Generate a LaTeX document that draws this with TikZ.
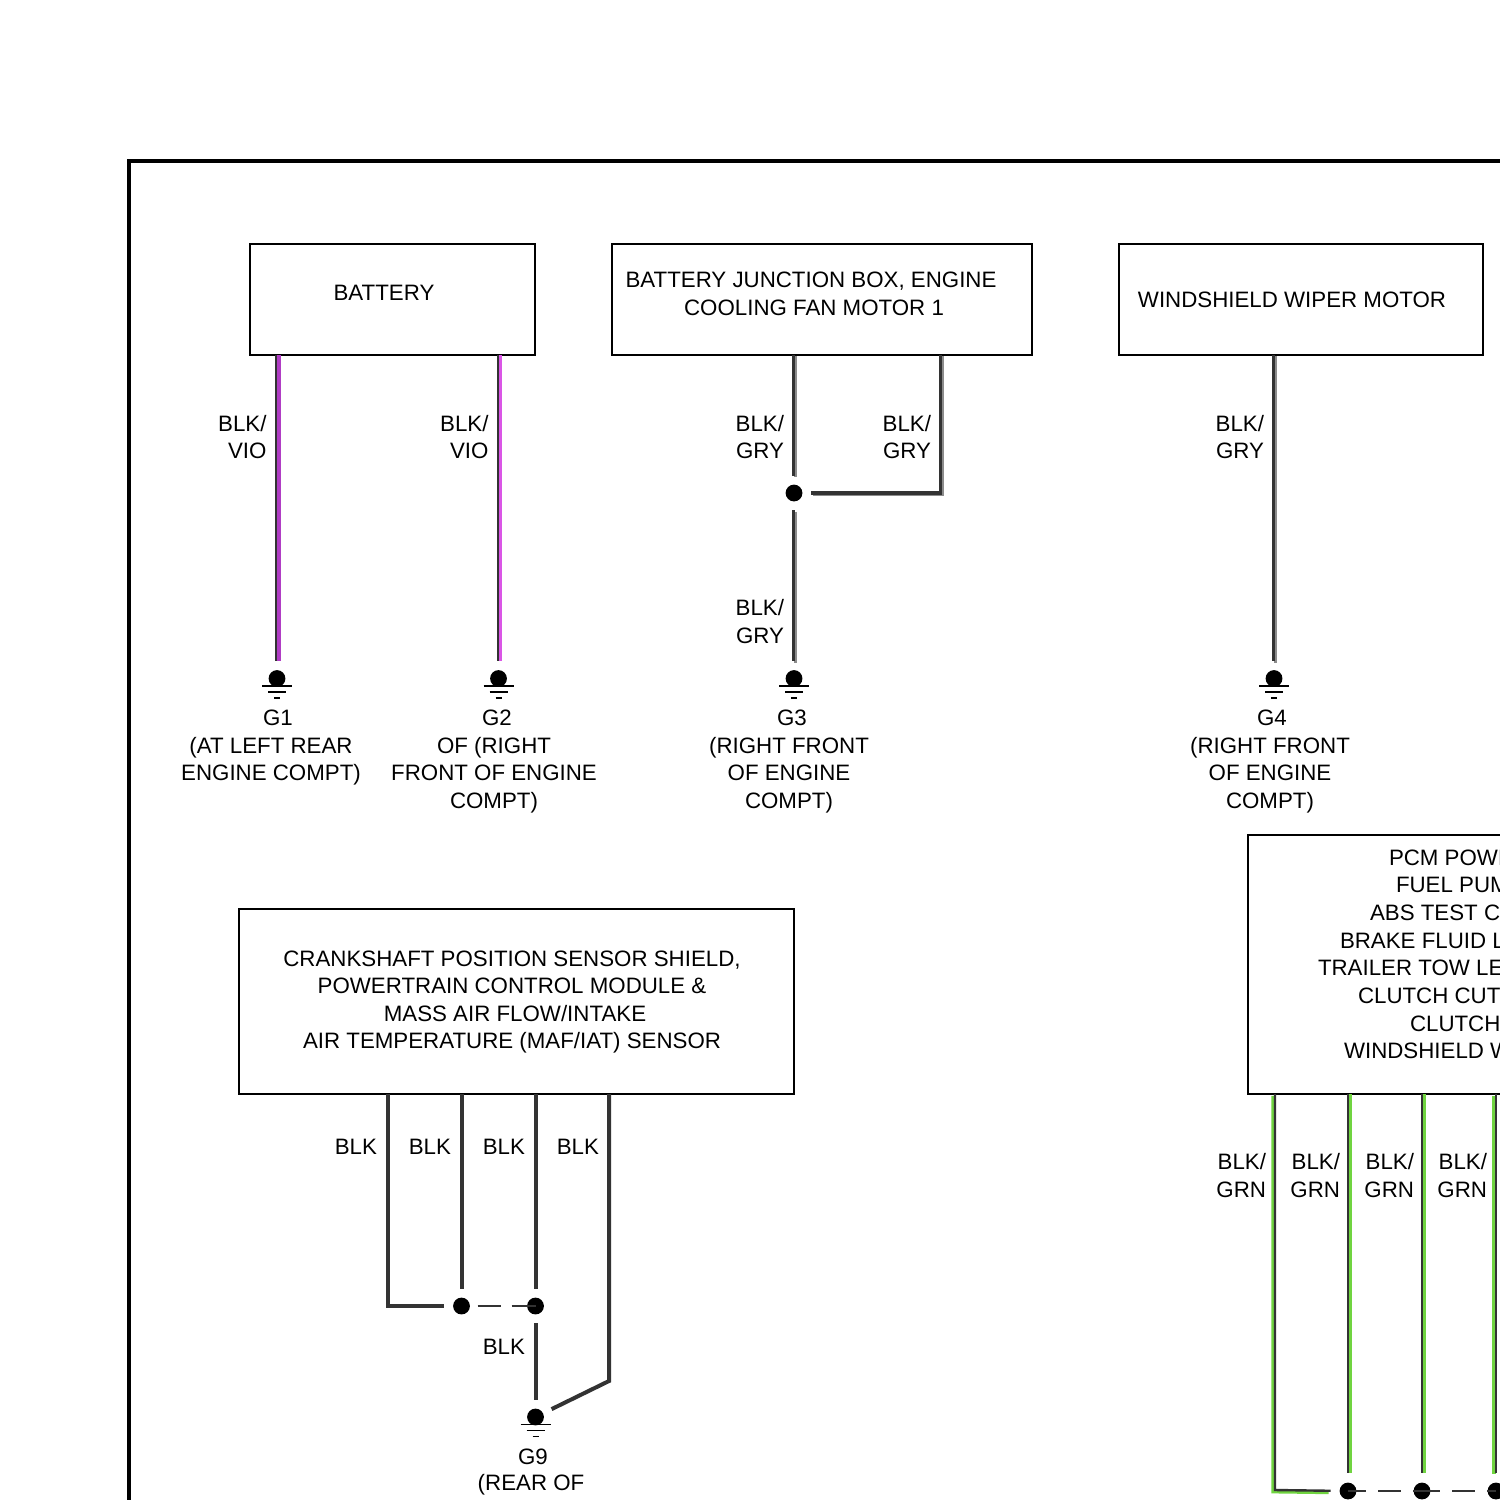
\documentclass[tikz,border=0pt]{standalone}
\usepackage{fontspec}
\setmainfont{Liberation Sans}
\definecolor{viocol}{HTML}{B03CC4}
\definecolor{viocolb}{HTML}{DA55E6}
\definecolor{grncol}{HTML}{70D440}
\definecolor{grycol}{HTML}{8C8C8C}
\definecolor{corecol}{HTML}{333333}
\tikzset{
  txt/.style={font=\fontsize{11.15}{13.75}\selectfont,inner sep=0pt,outer sep=0pt,text=black},
  boxnode/.style={draw=black,line width=0.9pt,fill=white,inner sep=0pt,outer sep=0pt,rectangle},
  dotnode/.style={circle,fill=black,draw=none,minimum size=8.4pt,inner sep=0pt,outer sep=0pt},
  rlabel/.style={txt,align=right,anchor=east},
  clabel/.style={txt,align=center},
  wireblk/.style={draw=corecol,line width=2pt,line join=miter},
  wirevio/.style={draw=corecol,line width=1pt,transform canvas={xshift=-0.5pt},preaction={draw=viocol,line width=1.8pt,transform canvas={xshift=1pt}}},
  wireviob/.style={draw=corecol,line width=1pt,transform canvas={xshift=-0.5pt},preaction={draw=viocolb,line width=1.8pt,transform canvas={xshift=1pt}}},
  wiregry/.style={draw=corecol,line width=1.6pt,transform canvas={xshift=-0.3pt},preaction={draw=grycol,line width=1.4pt,transform canvas={xshift=0.7pt,yshift=-0.7pt}}},
  wiregrnl/.style={draw=corecol,line width=1.2pt,preaction={draw=grncol,line width=1.6pt,transform canvas={xshift=-1pt,yshift=-0.9pt}}},
  wiregrnr/.style={draw=corecol,line width=1.2pt,preaction={draw=grncol,line width=1.6pt,transform canvas={xshift=1pt}}},
  thinline/.style={draw=black!80,line width=0.7pt},
  gndline/.style={draw=black,line width=0.8pt},
}
\newcommand{\gndsym}[3]{%
  \node[dotnode] (#1) at (#2,#3) {};
  \draw[gndline] ($(#1)+(-15,7.5)$) -- ($(#1)+(15,7.5)$);
  \draw[gndline] ($(#1)+(-9,13.5)$) -- ($(#1)+(9,13.5)$);
  \draw[gndline] ($(#1)+(-3,19.5)$) -- ($(#1)+(3,19.5)$);
}
\usetikzlibrary{calc}
\begin{document}
\begin{tikzpicture}[x=0.5pt,y=-0.5pt]
\path[use as bounding box,clip] (0,0) rectangle (1500,1500);
\fill[white] (0,0) rectangle (1500,1500);
% frame
\coordinate (frameA) at (1520,160.5);
\coordinate (frameB) at (129,160.5);
\coordinate (frameC) at (129,1520);
\draw[black,line width=2pt,line join=miter] (frameA) -- (frameB) -- (frameC);
% boxes
\node[boxnode,minimum width=142.5pt,minimum height=55.5pt] (batt) at (392.5,299.5) {};
\node[boxnode,minimum width=210pt,minimum height=55.5pt] (bjb) at (822,299.5) {};
\node[boxnode,minimum width=182pt,minimum height=55.5pt] (wwm) at (1301,299.5) {};
\node[boxnode,minimum width=277.5pt,minimum height=92.5pt] (ckp) at (516.5,1001.5) {};
\node[boxnode,minimum width=160pt,minimum height=129.5pt] (pcm) at (1408,964.5) {};
% box texts
\node[txt] (battT) at (384,293) {BATTERY};
\node[clabel] (bjbT) at (811,294) {BATTERY JUNCTION BOX, ENGINE\\\hspace*{3pt}COOLING FAN MOTOR 1};
\node[txt] (wwmT) at (1292,300) {WINDSHIELD WIPER MOTOR};
\node[clabel] (ckpT) at (512,1002) {CRANKSHAFT POSITION SENSOR SHIELD,\\POWERTRAIN CONTROL MODULE \&\\\hspace*{3pt}MASS AIR FLOW/INTAKE\\AIR TEMPERATURE (MAF/IAT) SENSOR};
\foreach \nm/\xx/\yy/\tx in {p1/1389/865/PCM POWE,p2/1396/892/FUEL PUM,p3/1370/920/ABS TEST C,p4/1340/948/BRAKE FLUID L,p5/1318/975/TRAILER TOW LE,p6/1358/1003/CLUTCH CUT,p7/1410/1031/CLUTCH,p8/1344/1058/WINDSHIELD W}
  \node[txt,anchor=base west] (\nm) at (\xx,\yy) {\tx};
% grounds
\gndsym{g1}{277}{678.5}
\gndsym{g2}{498.5}{678.5}
\gndsym{g3}{794}{678.5}
\gndsym{g4}{1274}{678.5}
\gndsym{g9}{535.5}{1417}
% ground texts
\node[txt] (g1T) at (278,718) {G1};
\node[clabel] (g1L) at (271,761) {(AT LEFT REAR\\ENGINE COMPT)};
\node[txt] (g2T) at (497,718) {G2};
\node[clabel] (g2L) at (494,775) {OF (RIGHT\\FRONT OF ENGINE\\COMPT)};
\node[txt] (g3T) at (792,718) {G3};
\node[clabel] (g3L) at (789,775) {(RIGHT FRONT\\OF ENGINE\\COMPT)};
\node[txt] (g4T) at (1272,718) {G4};
\node[clabel] (g4L) at (1270,775) {(RIGHT FRONT\\OF ENGINE\\COMPT)};
\node[txt] (g9T) at (533,1457) {G9};
\node[txt] (g9L) at (531,1485) {(REAR OF};
% top wires
\draw[wirevio,shorten >=4.5pt] (batt.south -| g1) -- (g1);
\draw[wireviob,shorten >=4.5pt] (batt.south -| g2) -- (g2);
\node[dotnode] (j3) at (794,493) {};
\draw[wiregry,shorten >=4.5pt] (bjb.south -| j3) -- (j3);
\draw[wiregry,shorten <=4.5pt,shorten >=4.5pt] (j3) -- (g3);
\coordinate (c3) at (941,493);
\draw[wiregry,shorten >=4.5pt,line join=miter] (bjb.south -| c3) -- (c3) -- (j3);
\draw[wiregry,shorten >=4.5pt] (wwm.south -| g4) -- (g4);
\node[rlabel] (l1) at (266.5,437) {BLK/\\VIO};
\node[rlabel] (l2) at (488.5,437) {BLK/\\VIO};
\node[rlabel] (l3) at (784,437) {BLK/\\GRY};
\node[rlabel] (l4) at (931,437) {BLK/\\GRY};
\node[rlabel] (l5) at (784,621.5) {BLK/\\GRY};
\node[rlabel] (l6) at (1264,437) {BLK/\\GRY};
% CKP wires
\node[dotnode] (d1) at (461.5,1306) {};
\node[dotnode] (d2) at (535.5,1306) {};
\coordinate (c1) at (387.5,1306);
\coordinate (c2) at (609,1381);
\draw[wireblk,shorten >=4.5pt] (ckp.south -| c1) -- (c1) -- (d1);
\draw[wireblk,shorten >=4.5pt] (ckp.south -| d1) -- (d1);
\draw[wireblk,shorten >=4.5pt] (ckp.south -| d2) -- (d2);
\draw[wireblk,shorten <=4.5pt,shorten >=4.5pt] (d2) -- (g9);
\draw[wireblk,shorten >=4.75pt] (ckp.south -| c2) -- (c2) -- (g9);
\draw[thinline,dash pattern=on 11.5pt off 5.5pt on 30pt,shorten <=8pt] (d1.center) -- (d2.center);
\node[txt,anchor=east] (b1) at (377,1147) {BLK};
\node[txt,anchor=east] (b2) at (451,1147) {BLK};
\node[txt,anchor=east] (b3) at (525,1147) {BLK};
\node[txt,anchor=east] (b4) at (599,1147) {BLK};
\node[txt,anchor=east] (b5) at (525,1347) {BLK};
% PCM wires
\node[dotnode] (e1) at (1348,1491) {};
\node[dotnode] (e2) at (1422,1491) {};
\node[dotnode] (e3) at (1496,1491) {};
\coordinate (c4) at (1275,1490);
\draw[wiregrnl,shorten >=4.5pt,line join=miter] (pcm.south -| c4) -- (c4) -- (e1);
\draw[wiregrnr,shorten >=5pt] (pcm.south -| e1) -- (e1);
\draw[wiregrnr,shorten >=5pt] (pcm.south -| e2) -- (e2);
\draw[wiregrnl,shorten >=5pt] (pcm.south -| e3) -- (e3);
\draw[thinline,dash pattern=on 9pt off 6pt on 11.5pt off 6pt on 30pt] (e1.center) -- (e2.center);
\draw[thinline,dash pattern=on 9pt off 6pt on 11.5pt off 6pt on 30pt] (e2.center) -- (e3.center);
\node[rlabel] (m1) at (1266,1175.5) {BLK/\\GRN};
\node[rlabel] (m2) at (1340,1175.5) {BLK/\\GRN};
\node[rlabel] (m3) at (1414,1175.5) {BLK/\\GRN};
\node[rlabel] (m4) at (1487,1175.5) {BLK/\\GRN};
\end{tikzpicture}
\end{document}
